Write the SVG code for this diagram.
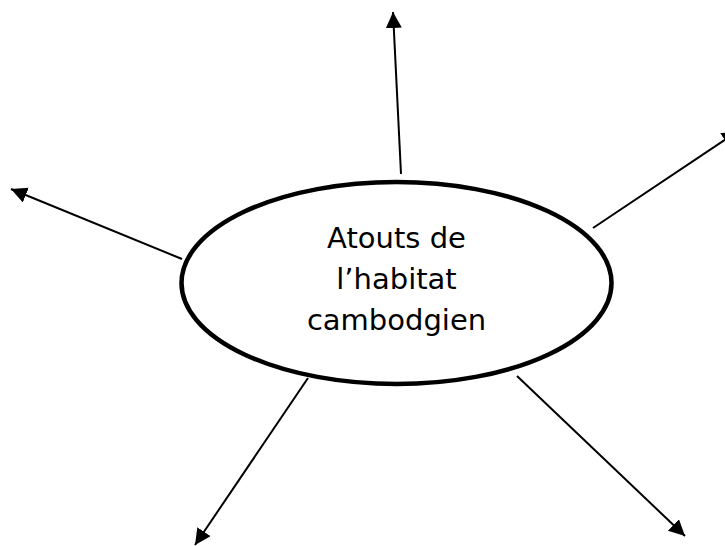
<svg xmlns="http://www.w3.org/2000/svg" width="725" height="546" viewBox="0 0 725 546">
<defs>
<style>
.conn{stroke:#000;stroke-width:2;fill:none;marker-end:url(#ah);}
.node{fill:#fff;stroke:#000;stroke-width:4.5;}
.lbl{font-family:"DejaVu Sans",Verdana,sans-serif;font-size:29px;fill:#000;text-anchor:middle;}
</style>
<marker id="ah" markerUnits="userSpaceOnUse" markerWidth="18" markerHeight="18" refX="16" refY="8" orient="auto">
<path d="M0,0 L16,8 L0,16 z" fill="#000"/>
</marker>
</defs>
<rect width="725" height="546" fill="#fff"/>
<g id="connectors">
<line class="conn" x1="401" y1="174" x2="393" y2="12"/>
<line class="conn" x1="593" y1="228" x2="738" y2="131"/>
<line class="conn" x1="182" y1="259" x2="11" y2="189"/>
<line class="conn" x1="308" y1="378" x2="195" y2="545"/>
<line class="conn" x1="517" y1="376" x2="685" y2="536"/>
</g>
<g id="center">
<ellipse class="node" cx="396.5" cy="283" rx="215" ry="101"/>
<text class="lbl" x="396.5" y="248">Atouts de</text>
<text class="lbl" x="396.5" y="289">l’habitat</text>
<text class="lbl" x="396.5" y="330">cambodgien</text>
</g>
</svg>
